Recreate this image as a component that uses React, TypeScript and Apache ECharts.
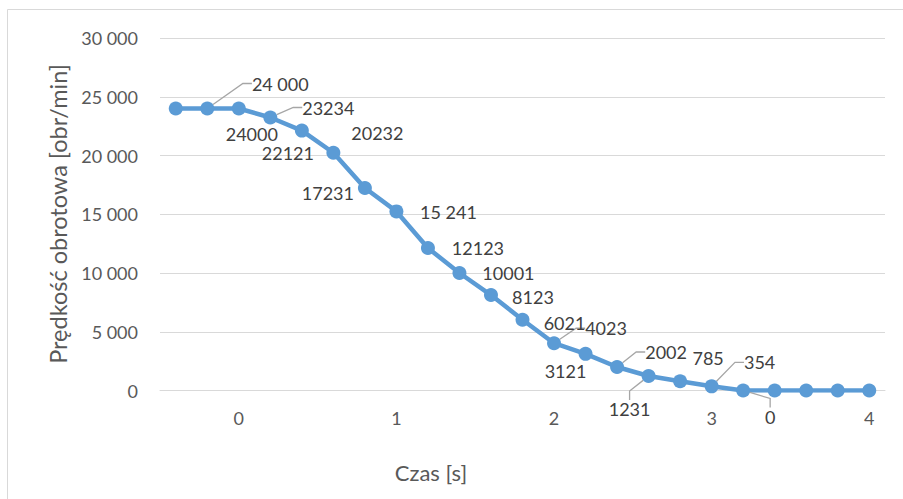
import React, { useEffect, useRef } from "react";
import * as echarts from "echarts";

// Czas [s] – categories
const czas = [
  "-0.4", "-0.2", "0", "0.2", "0.4", "0.6", "0.8", "1", "1.2", "1.4", "1.6", "1.8",
  "2", "2.2", "2.4", "2.6", "2.8", "3", "3.2", "3.4", "3.6", "3.8", "4",
];
// Prędkość obrotowa [obr/min]
const predkosc = [
  24000, 24000, 24000, 23234, 22121, 20232, 17231, 15241, 12123, 10001, 8123, 6021,
  4023, 3121, 2002, 1231, 785, 354, 0, 0, 0, 0, 0,
];
// data label texts as shown
const etykiety = [
  "", "24 000", "24000", "23234", "22121", "20232", "17231", "15 241", "12123", "10001",
  "8123", "6021", "4023", "3121", "2002", "1231", "785", "354", "0", "", "", "", "",
];
const yMin = 0;
const yMax = 30000;
const yStep = 5000;

// layout: label offsets relative to the point (px)
const labelOffsets: number[][] = [
  [0, 0], [73, -25], [13, 25], [58, -10], [-14, 22], [44, -20], [-37, 5], [52, 1],
  [50, 0], [49, 0], [42, 2], [42, 3], [52, -15], [-20, 17], [49, -15], [-19, 33],
  [28, -23], [48, -24], [27, 26], [0, 0], [0, 0], [0, 0], [0, 0],
];
const leaderIdx = [1, 3, 12, 14, 15, 17, 18];

const FONT = "Lato, 'Liberation Sans', sans-serif";

const fmtThousands = (v: number) =>
  String(v).replace(/\B(?=(\d{3})+(?!\d))/g, " ");

export default function App() {
  const ref = useRef<HTMLDivElement>(null);
  useEffect(() => {
    if (!ref.current) return;
    const chart = echarts.init(ref.current, null, { renderer: "svg" });
    chart.setOption({
      animation: false,
      backgroundColor: "#ffffff",
      textStyle: { fontFamily: FONT },
      grid: { left: 160, right: 18, top: 38, bottom: 108.5, containLabel: false },
      graphic: [
        {
          type: "rect",
          shape: { x: 7.5, y: 9.5, width: 1000, height: 1000 },
          style: { fill: "none", stroke: "#d9d9d9", lineWidth: 1 },
          silent: true,
        },
        {
          type: "text",
          x: 431,
          y: 472,
          style: {
            text: "Czas [s]",
            fill: "#595959",
            font: `22px ${FONT}`,
            align: "center",
            verticalAlign: "middle",
          },
        },
        {
          type: "text",
          x: 58,
          y: 214,
          rotation: Math.PI / 2,
          style: {
            text: "Prędkość obrotowa [obr/min]",
            fill: "#595959",
            font: `23.5px ${FONT}`,
            align: "center",
            verticalAlign: "middle",
          },
        },
      ],
      xAxis: {
        type: "category",
        data: czas,
        boundaryGap: true,
        axisLine: { show: true, lineStyle: { color: "#d9d9d9", width: 1 } },
        axisTick: { show: false },
        axisLabel: {
          interval: (_i: number, v: string) => v.indexOf(".") < 0,
          color: "#595959",
          fontSize: 18,
          fontFamily: FONT,
          margin: 18,
        },
        splitLine: { show: false },
      },
      yAxis: {
        type: "value",
        min: yMin,
        max: yMax,
        interval: yStep,
        axisLine: { show: false },
        axisTick: { show: false },
        axisLabel: {
          color: "#595959",
          fontSize: 18,
          fontFamily: FONT,
          margin: 22,
          formatter: (v: number) => fmtThousands(v),
        },
        splitLine: { lineStyle: { color: "#d9d9d9", width: 1 } },
      },
      series: [
        {
          type: "line",
          data: predkosc.map((v, i) => ({
            value: v,
            label: { show: etykiety[i] !== "", formatter: etykiety[i] },
            labelLine: {
              show: leaderIdx.indexOf(i) >= 0,
              length2: 9,
              lineStyle: { color: "#a6a6a6", width: 1.3 },
            },
          })),
          symbol: "circle",
          symbolSize: 14,
          lineStyle: { color: "#5b9bd5", width: 4.5 },
          itemStyle: { color: "#5b9bd5" },
          label: {
            show: true,
            position: "inside",
            color: "#404040",
            fontSize: 18,
            fontFamily: FONT,
          },
          labelLine: { show: false },
          labelLayout: (p: any) => ({
            dx: labelOffsets[p.dataIndex][0],
            dy: labelOffsets[p.dataIndex][1],
          }),
        },
      ],
    });
    return () => chart.dispose();
  }, []);
  return (
    <div
      ref={ref}
      style={{ position: "absolute", left: 0, top: 0, width: 903, height: 499 }}
    />
  );
}
